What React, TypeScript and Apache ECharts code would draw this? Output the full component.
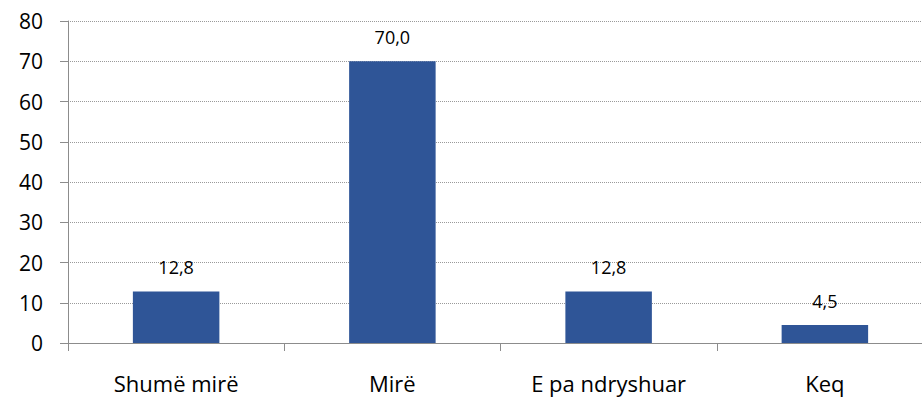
import React, { useEffect, useRef } from "react";
import * as echarts from "echarts";

const categories = ["Shumë mirë", "Mirë", "E pa ndryshuar", "Keq"];
const values = [12.8, 70.0, 12.8, 4.5];
const yMin = 0;
const yMax = 80;
const yInterval = 10;

export default function App() {
  const ref = useRef<HTMLDivElement>(null);
  useEffect(() => {
    if (!ref.current) return;
    const chart = echarts.init(ref.current, undefined, { renderer: "svg" });
    chart.setOption({
      animation: false,
      grid: { left: 68, top: 21, bottom: 57, right: 0, containLabel: false },
      xAxis: {
        type: "category",
        data: categories,
        axisLine: { lineStyle: { color: "#8c8c8c", width: 1 } },
        axisTick: { show: true, length: 8, lineStyle: { color: "#8c8c8c" } },
        axisLabel: {
          margin: 29,
          fontFamily: "Open Sans",
          fontSize: 22,
          color: "#000",
        },
      },
      yAxis: {
        type: "value",
        min: yMin,
        max: yMax,
        interval: yInterval,
        axisLine: { show: true, lineStyle: { color: "#8c8c8c", width: 1 } },
        axisTick: { show: true, length: 8, lineStyle: { color: "#8c8c8c" } },
        axisLabel: {
          margin: 25,
          fontFamily: "Open Sans",
          fontSize: 21,
          color: "#000",
        },
        splitLine: {
          show: true,
          lineStyle: { type: "dotted", color: "#9a9a9a", width: 1 },
        },
      },
      series: [
        {
          type: "bar",
          data: values,
          barWidth: "40%",
          itemStyle: { color: "#2F5597" },
          label: {
            show: true,
            position: "top",
            distance: 15,
            fontFamily: "Open Sans",
            fontSize: 18,
            color: "#000",
            formatter: (p: any) => Number(p.value).toFixed(1).replace(".", ","),
          },
        },
      ],
    });
    return () => chart.dispose();
  }, []);
  return (
    <div style={{ width: 922, height: 400, position: "absolute", left: 0, top: 0, overflow: "hidden", background: "#fff" }}>
      <div ref={ref} style={{ width: 933, height: 400 }} />
    </div>
  );
}
